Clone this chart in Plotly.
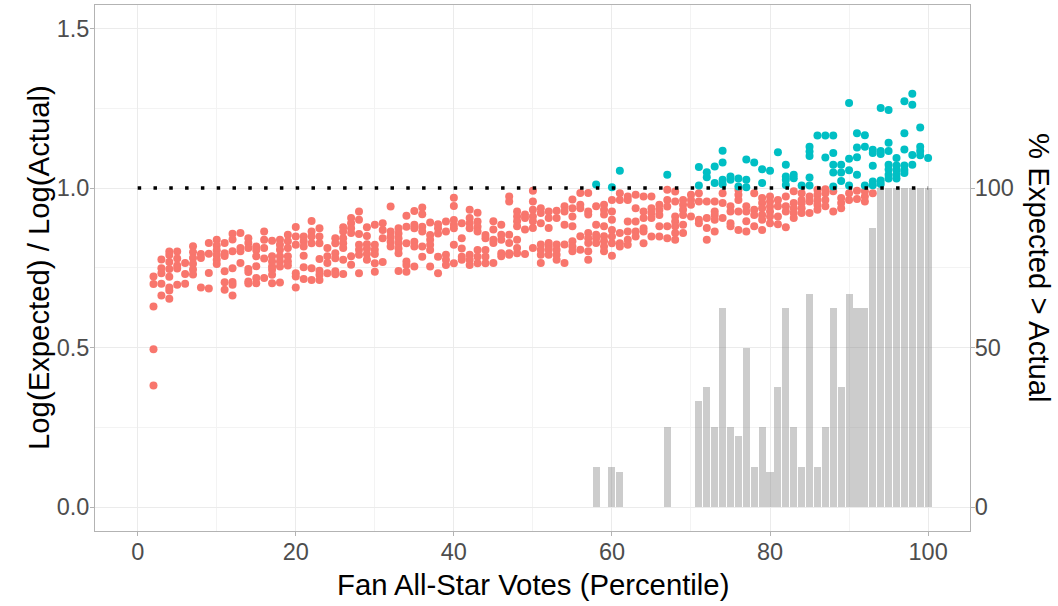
import plotly.graph_objects as go

# Ratio of log(expected) to log(actual) votes, grouped by fan-vote percentile.
# ratios[i] holds every player in percentile FIRST_PERCENTILE + i.
FIRST_PERCENTILE = 2
ratios = [
    [0.723, 0.699, 0.629, 0.495, 0.381],
    [0.776, 0.749, 0.733, 0.700, 0.663],
    [0.801, 0.790, 0.768, 0.746, 0.722, 0.688, 0.679, 0.653],
    [0.801, 0.779, 0.757, 0.748, 0.697],
    [0.765, 0.731, 0.700],
    [0.818, 0.799, 0.781, 0.763, 0.745, 0.729],
    [0.793, 0.781, 0.688],
    [0.828, 0.794, 0.734, 0.685],
    [0.838, 0.820, 0.805, 0.790, 0.775, 0.762],
    [0.828, 0.796, 0.787, 0.739, 0.705, 0.681],
    [0.857, 0.839, 0.802, 0.749, 0.706, 0.697, 0.663],
    [0.859, 0.812, 0.802, 0.765],
    [0.843, 0.828, 0.812, 0.746, 0.737, 0.707, 0.701],
    [0.817, 0.806, 0.786, 0.755, 0.718, 0.702],
    [0.864, 0.838, 0.812, 0.779, 0.718],
    [0.835, 0.786, 0.770, 0.754, 0.744, 0.728, 0.702],
    [0.838, 0.822, 0.807, 0.786, 0.770, 0.754, 0.704],
    [0.854, 0.833, 0.812, 0.786, 0.770, 0.757],
    [0.878, 0.848, 0.822, 0.733, 0.723, 0.688],
    [0.848, 0.833, 0.817, 0.788, 0.752, 0.715],
    [0.897, 0.864, 0.848, 0.827, 0.749, 0.712],
    [0.874, 0.848, 0.827, 0.778, 0.741, 0.728, 0.712],
    [0.812, 0.786, 0.765, 0.733],
    [0.843, 0.827, 0.796, 0.780, 0.739, 0.730],
    [0.877, 0.864, 0.843, 0.827, 0.812, 0.775, 0.731],
    [0.906, 0.890, 0.874, 0.859, 0.786, 0.760],
    [0.927, 0.901, 0.856, 0.822, 0.807, 0.791, 0.733],
    [0.877, 0.850, 0.824, 0.810, 0.793, 0.775],
    [0.885, 0.822, 0.807, 0.793, 0.764, 0.738],
    [0.890, 0.869, 0.843, 0.768],
    [0.942, 0.864, 0.848, 0.832, 0.817],
    [0.874, 0.858, 0.843, 0.827, 0.811, 0.796, 0.740],
    [0.913, 0.879, 0.827, 0.770, 0.759, 0.738],
    [0.928, 0.885, 0.874, 0.832, 0.817, 0.754],
    [0.939, 0.918, 0.879, 0.864, 0.817, 0.785],
    [0.892, 0.853, 0.838, 0.822, 0.806, 0.754],
    [0.887, 0.874, 0.858, 0.785, 0.733],
    [0.895, 0.864, 0.791, 0.775, 0.759],
    [0.970, 0.944, 0.900, 0.885, 0.874, 0.822, 0.764],
    [0.890, 0.843, 0.811, 0.785, 0.775],
    [0.932, 0.906, 0.890, 0.874, 0.791, 0.775, 0.759],
    [0.923, 0.895, 0.879, 0.864, 0.806, 0.785, 0.764],
    [0.853, 0.843, 0.806, 0.785, 0.764],
    [0.896, 0.870, 0.838, 0.828, 0.765],
    [0.885, 0.854, 0.838, 0.796, 0.786],
    [0.974, 0.958, 0.854, 0.828, 0.796, 0.791],
    [0.927, 0.911, 0.896, 0.880, 0.838, 0.812, 0.796],
    [0.917, 0.906, 0.870, 0.793],
    [0.992, 0.958, 0.932, 0.911, 0.896, 0.875, 0.812],
    [0.937, 0.922, 0.890, 0.823, 0.807, 0.791, 0.765],
    [0.927, 0.906, 0.875, 0.828, 0.817, 0.807, 0.791],
    [0.929, 0.906, 0.823, 0.807, 0.791, 0.775],
    [0.943, 0.927, 0.885, 0.823, 0.765],
    [0.964, 0.937, 0.911, 0.880, 0.833, 0.817, 0.802],
    [0.985, 0.948, 0.937, 0.849, 0.807],
    [0.985, 0.927, 0.917, 0.859, 0.843, 0.828, 0.802, 0.775],
    [1.011, 0.943, 0.885, 0.854, 0.843, 0.828],
    [0.948, 0.932, 0.917, 0.880, 0.849, 0.833, 0.817, 0.802],
    [1.003, 0.963, 0.927, 0.901, 0.869, 0.848, 0.827, 0.788],
    [1.054, 0.984, 0.963, 0.859, 0.827, 0.817],
    [0.974, 0.963, 0.895, 0.864, 0.838, 0.822],
    [0.979, 0.937, 0.895, 0.864, 0.848],
    [0.974, 0.927, 0.906, 0.874, 0.864, 0.827],
    [0.974, 0.937, 0.922, 0.906, 0.848],
    [0.948, 0.932, 0.916, 0.880, 0.848],
    [1.042, 0.995, 0.963, 0.942, 0.880, 0.843],
    [0.989, 0.958, 0.911, 0.895, 0.880, 0.859, 0.838],
    [0.963, 0.948, 0.932, 0.916, 0.885, 0.859],
    [0.979, 0.963, 0.948, 0.911],
    [1.066, 1.008, 0.984, 0.958, 0.901, 0.890],
    [1.050, 1.034, 0.958, 0.906, 0.875, 0.838],
    [1.068, 1.016, 0.958, 0.927, 0.916, 0.901, 0.864],
    [1.117, 1.080, 1.026, 1.012, 0.984, 0.953, 0.906],
    [1.036, 1.026, 0.943, 0.927, 0.890, 0.880],
    [1.030, 1.005, 0.995, 0.979, 0.963, 0.927, 0.869],
    [1.090, 1.026, 1.003, 0.943, 0.927, 0.896, 0.864],
    [1.080, 0.984, 0.932, 0.916, 0.880],
    [1.059, 1.016, 0.969, 0.953, 0.937, 0.916, 0.901, 0.869],
    [1.054, 0.974, 0.958, 0.942, 0.927, 0.911, 0.890],
    [1.112, 0.963, 0.943, 0.911, 0.887],
    [1.073, 1.036, 1.026, 1.010, 0.974, 0.943, 0.927, 0.877],
    [1.042, 1.031, 0.990, 0.953, 0.937, 0.922, 0.906],
    [1.008, 0.984, 0.963, 0.953, 0.937, 0.922],
    [1.130, 1.115, 1.101, 1.033, 1.008, 0.974, 0.958, 0.922],
    [1.165, 0.995, 0.979, 0.963, 0.948, 0.932],
    [1.165, 1.096, 0.996, 0.984, 0.963, 0.943],
    [1.165, 1.110, 1.073, 1.049, 1.005, 0.990, 0.927],
    [1.073, 1.049, 1.022, 0.969, 0.953, 0.937],
    [1.267, 1.092, 1.056, 1.008, 0.984, 0.963],
    [1.172, 1.127, 1.097, 1.042, 0.992, 0.966],
    [1.166, 1.130, 1.008, 0.990, 0.974, 0.958],
    [1.120, 1.110, 1.070, 1.021, 1.009, 0.984],
    [1.251, 1.116, 1.107, 1.024, 1.013],
    [1.245, 1.142, 1.116, 1.073, 1.058, 1.042, 1.030],
    [1.094, 1.071, 1.057, 1.042, 1.030],
    [1.272, 1.172, 1.121, 1.071, 1.057, 1.047],
    [1.296, 1.261, 1.104, 1.073],
    [1.190, 1.130, 1.116, 1.103],
    [1.094],
]

# Share of players per percentile whose expected votes exceed actual votes.
bar_percentile = [58, 60, 61, 67, 71, 72, 73, 74, 75, 76, 77, 78, 79, 80, 81,
                  82, 83, 84, 85, 86, 87, 88, 89, 90, 91, 92, 93,
                  94, 95, 96, 97, 98, 99, 100]
bar_share = [12.5, 12.5, 11.1, 25.0, 33.3, 37.5, 25.0, 62.5, 25.0, 22.2, 50.0,
             12.5, 25.0, 11.1, 37.5, 62.5, 25.0, 12.5, 66.7, 12.5, 25.0, 62.5,
             37.5, 66.7, 62.5, 62.5, 87.5,
             100, 100, 100, 100, 100, 100, 100]

x_ticks = [0, 20, 40, 60, 80, 100]
y_ticks = [0.0, 0.5, 1.0, 1.5]
y_tick_text = ["0.0", "0.5", "1.0", "1.5"]
y2_ticks = [0, 50, 100]

RED = "#F8766D"
CYAN = "#00BFC4"
TICK_GREY = "#4D4D4D"
BORDER_GREY = "#B3B3B3"
GRID_GREY = "#EBEBEB"
FONT = "Liberation Sans, Arial, sans-serif"

below_x, below_y, above_x, above_y = [], [], [], []
for i, group in enumerate(ratios):
    pct = FIRST_PERCENTILE + i
    for r in group:
        if r > 1:
            above_x.append(pct)
            above_y.append(r)
        else:
            below_x.append(pct)
            below_y.append(r)

fig = go.Figure()
fig.add_trace(go.Scatter(x=below_x, y=below_y, mode="markers",
                         marker=dict(color=RED, size=8, line_width=0),
                         showlegend=False, hoverinfo="x+y"))
fig.add_trace(go.Scatter(x=above_x, y=above_y, mode="markers",
                         marker=dict(color=CYAN, size=8, line_width=0),
                         showlegend=False, hoverinfo="x+y"))
fig.add_trace(go.Bar(x=bar_percentile, y=bar_share, yaxis="y2", width=0.9,
                     marker=dict(color="rgba(127,127,127,0.4)", line_width=0),
                     showlegend=False))

# Dotted reference line where expected equals actual
fig.add_shape(type="line", xref="x", yref="y", x0=0, x1=100, y0=1, y1=1,
              layer="above", line=dict(color="black", width=3.5, dash="3.5px,12.3px"))

y_lo, y_hi = -0.075, 1.574
axis_common = dict(
    ticks="outside", ticklen=4, tickwidth=1, tickcolor=BORDER_GREY,
    tickfont=dict(family=FONT, size=23.5, color=TICK_GREY),
    zeroline=False,
)

fig.update_layout(
    width=1058, height=606,
    margin=dict(l=95, r=88, t=5, b=75),
    paper_bgcolor="white", plot_bgcolor="white",
    font=dict(family=FONT),
    bargap=0,
    xaxis=dict(
        range=[-5.4, 105.3], tickvals=x_ticks,
        showgrid=True, gridcolor=GRID_GREY, gridwidth=1,
        minor=dict(dtick=10, tick0=0, showgrid=True, gridcolor="#F3F3F3", gridwidth=0.7),
        showline=True, linecolor=BORDER_GREY, linewidth=1, mirror=True,
        ticklabelstandoff=-4,
        **axis_common,
    ),
    yaxis=dict(
        range=[y_lo, y_hi], tickvals=y_ticks, ticktext=y_tick_text,
        showgrid=True, gridcolor=GRID_GREY, gridwidth=1,
        minor=dict(dtick=0.25, tick0=0, showgrid=True, gridcolor="#F3F3F3", gridwidth=0.7),
        showline=True, linecolor=BORDER_GREY, linewidth=1, mirror=True,
        ticklabelstandoff=-4,
        **axis_common,
    ),
    yaxis2=dict(
        overlaying="y", side="right", anchor="x",
        range=[y_lo * 100, y_hi * 100], tickvals=y2_ticks,
        showgrid=False, showline=False,
        ticklabelstandoff=-5,
        **axis_common,
    ),
    annotations=[
        dict(text="Fan All-Star Votes (Percentile)", xref="paper", yref="paper",
             x=0.5, y=0, xanchor="center", yanchor="middle", yshift=-53,
             showarrow=False, font=dict(family=FONT, size=29.3, color="black")),
        dict(text="Log(Expected) / Log(Actual)", xref="paper", yref="paper",
             x=0, y=0.5, xanchor="center", yanchor="middle", xshift=-57,
             textangle=-90, showarrow=False,
             font=dict(family=FONT, size=29.3, color="black")),
        dict(text="% Expected &gt; Actual", xref="paper", yref="paper",
             x=1, y=0.5, xanchor="center", yanchor="middle", xshift=70,
             textangle=90, showarrow=False,
             font=dict(family=FONT, size=29.3, color="black")),
    ],
)

fig.write_html("out.html")
